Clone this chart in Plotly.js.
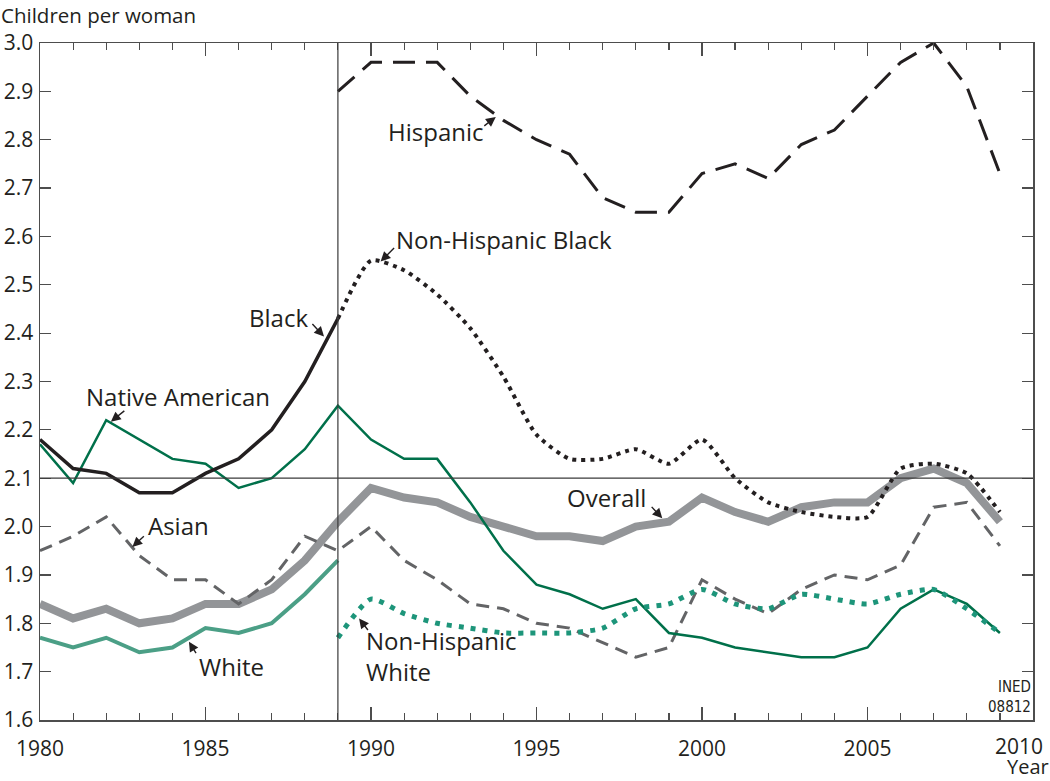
<!DOCTYPE html>
<html>
<head>
<meta charset="utf-8">
<script src="https://cdn.plot.ly/plotly-3.0.1.min.js"></script>
<style>
html,body{margin:0;padding:0;background:#fff;}
#chart{width:1050px;height:781px;}
</style>
</head>
<body>
<div id="chart"></div>
<script>
// ---- data ----
const yearsEarly = [1980,1981,1982,1983,1984,1985,1986,1987,1988,1989];
const yearsAll = [1980,1981,1982,1983,1984,1985,1986,1987,1988,1989,1990,1991,1992,1993,1994,1995,1996,1997,1998,1999,2000,2001,2002,2003,2004,2005,2006,2007,2008,2009];
const yearsLate = [1989,1990,1991,1992,1993,1994,1995,1996,1997,1998,1999,2000,2001,2002,2003,2004,2005,2006,2007,2008,2009];
const xTickVals = [1980,1985,1990,1995,2000,2005];
const xTickText = ['1980','1985','1990','1995','2000','2005'];
const lastTickLabel = '2010';

const black = [2.18,2.12,2.11,2.07,2.07,2.11,2.14,2.20,2.30,2.43];
const white = [1.77,1.75,1.77,1.74,1.75,1.79,1.78,1.80,1.86,1.93];
const nativeAmerican = [2.17,2.09,2.22,2.18,2.14,2.13,2.08,2.10,2.16,2.25,2.18,2.14,2.14,2.05,1.95,1.88,1.86,1.83,1.85,1.78,1.77,1.75,1.74,1.73,1.73,1.75,1.83,1.87,1.84,1.78];
const overall = [1.84,1.81,1.83,1.80,1.81,1.84,1.84,1.87,1.93,2.01,2.08,2.06,2.05,2.02,2.00,1.98,1.98,1.97,2.00,2.01,2.06,2.03,2.01,2.04,2.05,2.05,2.10,2.12,2.09,2.01];
const asian = [1.95,1.98,2.02,1.94,1.89,1.89,1.84,1.89,1.98,1.95,2.00,1.93,1.89,1.84,1.83,1.80,1.79,1.76,1.73,1.75,1.89,1.85,1.82,1.87,1.90,1.89,1.92,2.04,2.05,1.96];
const hispanic = [2.90,2.96,2.96,2.96,2.89,2.84,2.80,2.77,2.68,2.65,2.65,2.73,2.75,2.72,2.79,2.82,2.89,2.96,3.00,2.91,2.73];
const nhBlack = [2.43,2.55,2.53,2.48,2.41,2.31,2.19,2.14,2.14,2.16,2.13,2.18,2.10,2.05,2.03,2.02,2.02,2.12,2.13,2.11,2.03];
const nhWhite = [1.77,1.85,1.82,1.80,1.79,1.78,1.78,1.78,1.79,1.83,1.84,1.87,1.84,1.83,1.86,1.85,1.84,1.86,1.87,1.83,1.78];

const FONT = "'Open Sans', 'Noto Sans', 'DejaVu Sans', sans-serif";
const INK = '#231f20';

const traces = [
  {x: yearsAll, y: overall, mode:'lines', line:{color:'#939598', width:8}, name:'Overall'},
  {x: yearsAll, y: asian, mode:'lines', line:{color:'#636466', width:3, dash:'13px,8px'}, name:'Asian'},
  {x: yearsAll, y: nativeAmerican, mode:'lines', line:{color:'#00704a', width:2.5}, name:'Native American'},
  {x: yearsEarly, y: white, mode:'lines', line:{color:'#4b9f86', width:4}, name:'White'},
  {x: yearsEarly, y: black, mode:'lines', line:{color:INK, width:3.5}, name:'Black'},
  {x: yearsLate, y: nhWhite, mode:'lines', line:{color:'#1d957a', width:5, dash:'5px,7px', shape:'spline', smoothing:0.6}, name:'Non-Hispanic White'},
  {x: yearsLate, y: nhBlack, mode:'lines', line:{color:INK, width:4, dash:'4px,5px', shape:'spline', smoothing:0.6}, name:'Non-Hispanic Black'},
  {x: yearsLate, y: hispanic, mode:'lines', line:{color:INK, width:3, dash:'22px,11px'}, name:'Hispanic'}
];

function label(text, x, y, opts) {
  return Object.assign({text:text, x:x, y:y, xref:'x', yref:'y', showarrow:false,
    font:{family:FONT, size:24, color:INK}}, opts||{});
}
function arrow(x, y, ax, ay) {
  return {text:'', x:x, y:y, xref:'x', yref:'y', ax:ax, ay:ay, showarrow:true,
    arrowhead:2, arrowsize:1.4, arrowwidth:1.4, arrowcolor:INK, standoff:0, startstandoff:0};
}

const annotations = [
  label('Hispanic', 1991.95, 2.816),
  arrow(1993.77, 2.847, -13, 10),
  label('Non-Hispanic Black', 1994.01, 2.593),
  arrow(1990.29, 2.548, 15, -15),
  label('Black', 1987.21, 2.433),
  arrow(1988.58, 2.393, -13, -14),
  label('Native American', 1984.17, 2.27),
  arrow(1982.14, 2.217, 15, -12),
  label('Asian', 1984.18, 2.003),
  arrow(1982.79, 1.958, 13, -12),
  label('White', 1985.8, 1.71),
  arrow(1984.5, 1.762, 8, 13),
  label('Overall', 1997.12, 2.061),
  arrow(1998.8, 2.017, -12, -13),
  label('Non-Hispanic<br>White', 1989.8, 1.732, {xanchor:'left', align:'left'}),
  arrow(1989.64, 1.81, 10, 13),
  {text:'Children per woman', xref:'paper', yref:'paper', x:-0.0398, y:1.0635, xanchor:'left', yanchor:'top',
    showarrow:false, borderpad:0, font:{family:FONT, size:20.5, color:INK}},
  {text:lastTickLabel, xref:'paper', yref:'paper', x:1.0115, y:-0.0383, xanchor:'right', yanchor:'middle',
    showarrow:false, borderpad:0, font:{family:FONT, size:21, color:INK}},
  {text:'Year', xref:'paper', yref:'paper', x:1.017, y:-0.0694, xanchor:'right', yanchor:'middle',
    showarrow:false, borderpad:0, font:{family:FONT, size:20, color:INK}},
  {text:'INED<br>08812', xref:'paper', yref:'paper', x:0.9985, y:0.034, xanchor:'right', yanchor:'middle', align:'right',
    showarrow:false, borderpad:0, font:{family:"'DejaVu Sans Condensed', 'Liberation Sans Narrow', 'Open Sans', sans-serif", size:15, color:INK}}
];

const shapes = [
  {type:'line', xref:'paper', yref:'y', x0:0, x1:1, y0:2.1, y1:2.1, line:{color:'#3a3a3a', width:1.2}},
  {type:'line', xref:'x', yref:'paper', x0:1989, x1:1989, y0:0, y1:1, line:{color:'#3a3a3a', width:1.2}}
];

const layout = {
  width:1050, height:781,
  margin:{l:39.5, r:17, t:43, b:61, pad:0},
  paper_bgcolor:'#fff', plot_bgcolor:'#fff',
  showlegend:false,
  font:{family:FONT, color:INK},
  xaxis:{
    range:[1980,2010], tickmode:'array', tickvals:xTickVals, ticktext:xTickText,
    ticks:'inside', ticklen:13, tickwidth:1.2, tickcolor:'#4d4d4d',
    minor:{tickmode:'linear', tick0:1980, dtick:1, ticks:'inside', ticklen:7, tickwidth:1.2, tickcolor:'#4d4d4d', showgrid:false},
    showline:true, linecolor:'#4d4d4d', linewidth:1.5, mirror:'ticks', showgrid:false, zeroline:false,
    tickfont:{family:FONT, size:21, color:INK}, ticklabelstandoff:9, ticklabeloverflow:'allow',
    automargin:false, fixedrange:true
  },
  yaxis:{
    range:[1.6,3.0], tick0:1.6, dtick:0.1, tickformat:'.1f', ticks:'inside', ticklen:11, tickwidth:1.2, tickcolor:'#4d4d4d',
    showline:true, linecolor:'#4d4d4d', linewidth:1.5, mirror:'ticks', showgrid:false, zeroline:false,
    tickfont:{family:FONT, size:21, color:INK}, ticklabelstandoff:1, ticklabeloverflow:'allow',
    automargin:false, fixedrange:true
  },
  annotations:annotations,
  shapes:shapes
};

Plotly.newPlot('chart', traces, layout, {displayModeBar:false, staticPlot:true});
</script>
</body>
</html>
